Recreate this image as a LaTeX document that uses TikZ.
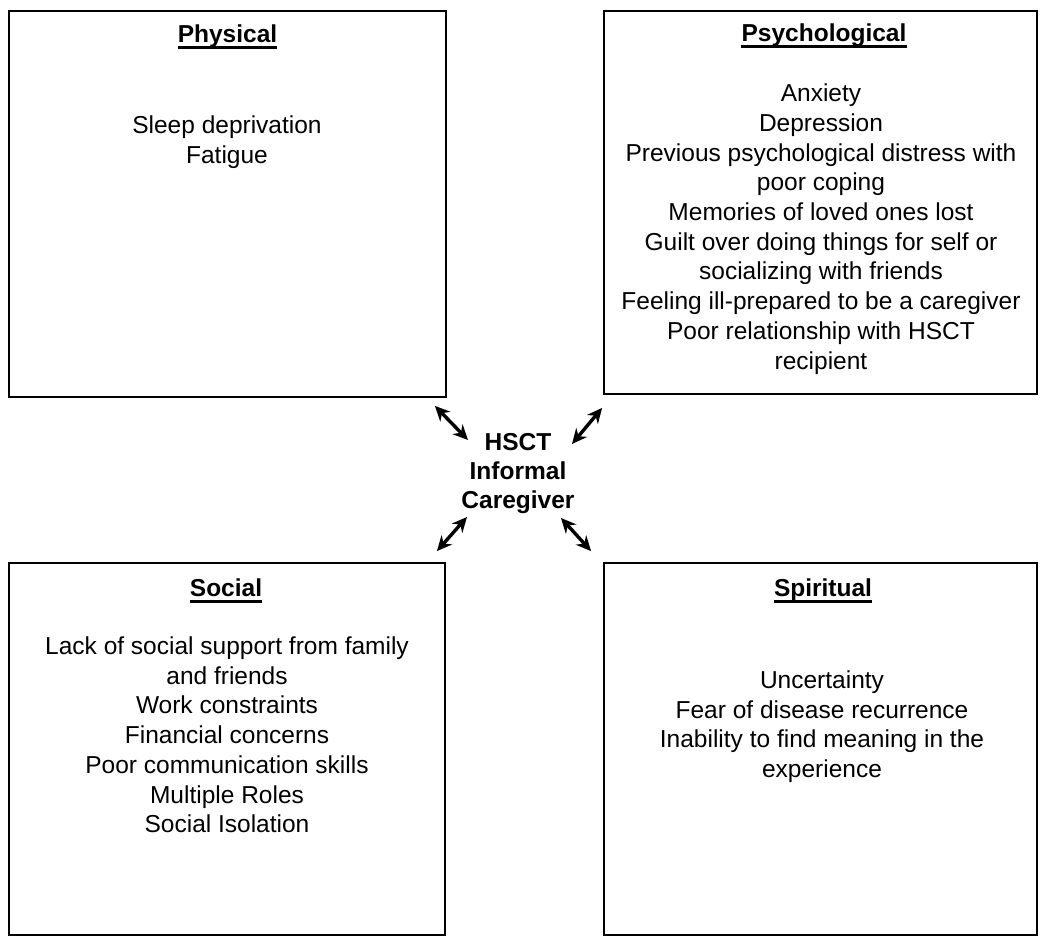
\documentclass[tikz,border=0pt]{standalone}
\usepackage{fontspec}
\setmainfont{Liberation Sans}
\usetikzlibrary{arrows.meta}

\begin{document}
\begin{tikzpicture}[x=1pt,y=-1pt,
  panel/.style={draw,line width=1.8pt,inner sep=0pt},
  head/.style={font=\fontsize{24.5}{29.5}\selectfont\bfseries,inner sep=0pt,anchor=base},
  items/.style={font=\fontsize{24.5}{29.7}\selectfont,align=center,inner sep=0pt,anchor=north},
  uline/.style={line width=3pt},
  link/.style={line width=3.4pt,{Stealth[length=15pt,width=14pt]}-{Stealth[length=15pt,width=14pt]}}]
  \useasboundingbox (0,0) rectangle (1050,948);
  % boxes
  \node[panel,minimum width=437pt,minimum height=386pt] (phys) at (227.5,204) {};
  \node[panel,minimum width=433pt,minimum height=383pt] (psy) at (820.5,202.5) {};
  \node[panel,minimum width=436pt,minimum height=372pt] (soc) at (227,749) {};
  \node[panel,minimum width=433pt,minimum height=372pt] (spi) at (820.5,749) {};
  % headings
  \node[head] (physT) at (227.5,42) {Physical};
  \node[head] (psyT) at (824,41) {Psychological};
  \node[head] (socT) at (226,596) {Social};
  \node[head] (spiT) at (823,596) {Spiritual};
  \foreach \t in {physT,psyT,socT,spiT}
    \draw[uline] ([yshift=-5.5pt]\t.base west) -- ([yshift=-5.5pt]\t.base east);
  % lists
  \node[items] (physL) at (227,112.5) {\strut Sleep deprivation\\Fatigue};
  \node[items] (psyL) at (821,80.8) {\strut Anxiety\\Depression\\
    Previous psychological distress with\\poor coping\\
    Memories of loved ones lost\\Guilt over doing things for self or\\
    socializing with friends\\Feeling ill-prepared to be a caregiver\\
    Poor relationship with HSCT\\recipient};
  \node[items] (socL) at (227,633.5) {\strut Lack of social support from family\\
    and friends\\Work constraints\\Financial concerns\\
    Poor communication skills\\Multiple Roles\\Social Isolation};
  \node[items] (spiL) at (822,667.5) {\strut Uncertainty\\Fear of disease recurrence\\
    Inability to find meaning in the\\experience};
  % centre
  \node[items,font=\fontsize{24.5}{29}\selectfont\bfseries] (hsct) at (518,430)
    {\strut HSCT\\Informal\\Caregiver};
  \draw[link] ([shift={(-12,8)}]phys.south east) -- ([shift={(-50,10)}]hsct.north);
  \draw[link] ([shift={(-1,13)}]psy.south west) -- ([shift={(54,14)}]hsct.north);
  \draw[link] ([shift={(-9,-11)}]soc.north east) -- ([shift={(-51,87)}]hsct.north);
  \draw[link] ([shift={(-12,-11)}]spi.north west) -- ([shift={(43,88)}]hsct.north);
\end{tikzpicture}
\end{document}
